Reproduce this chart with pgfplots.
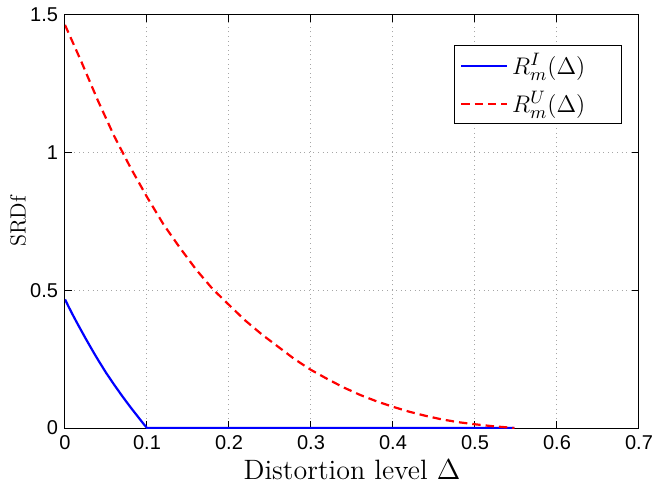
\documentclass[border=0pt]{standalone}
\usepackage{pgfplots}
\pgfplotsset{compat=1.18}
\usepackage{fontspec}
\newfontfamily\ticksf{Liberation Sans}
\begin{document}
\begin{tikzpicture}
\useasboundingbox (-32.5pt,-29.5pt) rectangle (293.5pt,214pt);
\begin{axis}[
  scale only axis,
  width=287pt, height=206.5pt,
  xmin=0, xmax=0.7, ymin=0, ymax=1.5,
  xtick={0,0.1,0.2,0.3,0.4,0.5,0.6,0.7},
  ytick={0,0.5,1,1.5},
  xticklabels={0,0.1,0.2,0.3,0.4,0.5,0.6,0.7},
  yticklabels={0,0.5,1,1.5},
  tick align=inside,
  major tick length=3.5pt,
  tick style={black, line width=0.5pt},
  axis line style={line width=0.5pt},
  grid=major,
  grid style={gray!70, line width=0.5pt, dash pattern=on 0.5pt off 1.8pt},
  ticklabel style={font=\ticksf\fontsize{10}{12}\selectfont},
  /pgf/number format/assume math mode=true,
  xlabel={Distortion level $\Delta$},
  xlabel style={font=\fontsize{14}{16}\selectfont, at={(axis description cs:0.5,0)}, anchor=base, yshift=-25.5pt},
  ylabel={SRDf},
  ylabel style={font=\fontsize{11}{13}\selectfont, at={(axis description cs:0,0.5)}, anchor=center, yshift=23.5pt},
  legend style={at={(0.970,0.927)}, anchor=north east, draw=black, line width=0.5pt,
    font=\fontsize{13}{15}\selectfont, inner xsep=3pt, inner ysep=3.5pt, row sep=6pt,
    nodes={inner ysep=0.5pt}},
  legend cell align=left,
  legend image code/.code={\draw[#1] (0pt,0pt) -- (23pt,0pt);},
]
\addplot[blue, line width=1.1pt, line join=round] coordinates {
(0,0.467) (0.005,0.437) (0.01,0.408) (0.015,0.380) (0.02,0.353) (0.025,0.326)
(0.03,0.300) (0.035,0.274) (0.04,0.249) (0.045,0.225) (0.05,0.201) (0.055,0.179)
(0.06,0.157) (0.065,0.136) (0.07,0.115) (0.075,0.095) (0.08,0.075) (0.085,0.056)
(0.09,0.037) (0.095,0.018) (0.1,0) (0.2,0) (0.3,0) (0.4,0) (0.5,0) (0.548,0)
};
\addlegendentry{$R_m^I(\Delta)$\kern13pt}
\addplot[red, line width=1.1pt, dash pattern=on 4.2pt off 2.5pt] coordinates {
(0,1.464) (0.02,1.33) (0.04,1.19) (0.06,1.06) (0.08,0.945) (0.10,0.839)
(0.12,0.74) (0.14,0.655) (0.16,0.575) (0.18,0.505) (0.20,0.447) (0.22,0.39)
(0.24,0.34) (0.26,0.295) (0.28,0.25) (0.30,0.211) (0.32,0.178) (0.34,0.147)
(0.36,0.12) (0.38,0.097) (0.40,0.077) (0.42,0.059) (0.44,0.044) (0.46,0.031)
(0.48,0.021) (0.50,0.0135) (0.52,0.007) (0.54,0.002) (0.548,0)
};
\addlegendentry{$R_m^U(\Delta)$\kern13pt}
\end{axis}
\end{tikzpicture}
\end{document}
